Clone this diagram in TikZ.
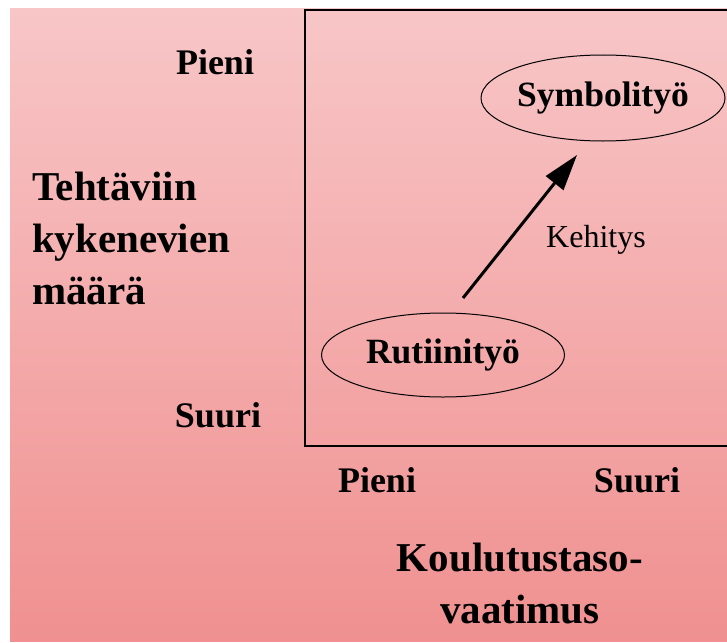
\documentclass[tikz,border=0pt]{standalone}
\usepackage{fontspec}
\setmainfont{Liberation Serif}
\usetikzlibrary{shapes.geometric,arrows.meta}
\definecolor{bgtop}{RGB}{248,198,199}
\definecolor{bgbot}{RGB}{240,144,144}
\begin{document}
\begin{tikzpicture}[x=1pt,y=-1pt,
  lbl/.style={font=\fontsize{36}{40}\selectfont\bfseries, inner sep=0pt},
  axistitle/.style={font=\fontsize{41}{52}\selectfont\bfseries, inner sep=0pt},
  work/.style={draw, ellipse, line width=1pt, inner sep=0pt,
    font=\fontsize{35.5}{40}\selectfont\bfseries},
  devarrow/.style={line width=3pt, -{Triangle[length=36pt,width=22pt]}},
  devlabel/.style={font=\fontsize{32}{36}\selectfont, inner sep=0pt}]
\useasboundingbox (0,0) rectangle (727,642);
% page and gradient panel
\fill[white] (0,0) rectangle (727,642);
\shade[top color=bgtop, bottom color=bgbot] (10,9) rectangle (727,641);
% open frame of the chart
\draw[line width=2pt] (730,10) -- (305,10) -- (305,446) -- (730,446);
% axis end labels
\node[lbl] (yhigh) at (215,62) {Pieni};
\node[lbl] (ylow) at (218,415) {Suuri};
\node[lbl] (xlow) at (377,480) {Pieni};
\node[lbl] (xhigh) at (637,480) {Suuri};
% axis titles
\node[axistitle, align=left, anchor=north west] (ytitle) at (32,172)
  {Tehtäviin\\kykenevien\\määrä};
\node[axistitle, align=center, anchor=north] (xtitle) at (520,543)
  {Koulutustaso-\\vaatimus};
% kinds of work
\node[work, minimum width=244pt, minimum height=86pt] (symbol) at (603,98) {Symbolityö};
\node[work, minimum width=243pt, minimum height=84pt] (routine) at (443,355) {Rutiinityö};
% development arrow
\coordinate (devstart) at (463,298);
\coordinate (devend) at (577,155);
\draw[devarrow] (devstart) -- (devend);
\node[devlabel] (dev) at (596,240) {Kehitys};
\end{tikzpicture}
\end{document}
